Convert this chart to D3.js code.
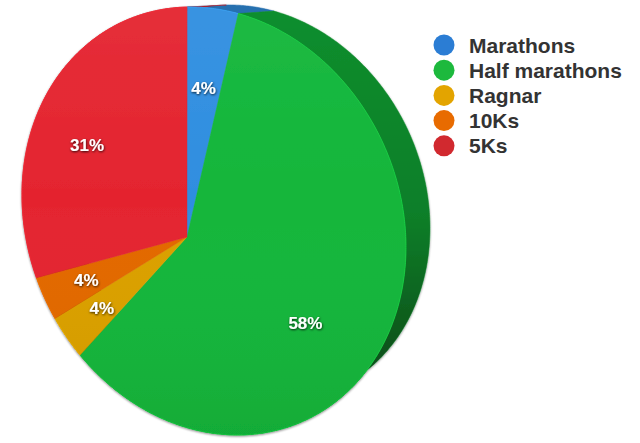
<!DOCTYPE html>
<html><head><meta charset="utf-8">
<script src="https://cdn.jsdelivr.net/npm/d3@7"></script>
<style>html,body{margin:0;padding:0;background:#fff}svg{display:block}</style>
</head><body>
<svg id="chart" width="640" height="443"></svg>
<script>
const categories = ["Marathons","Half marathons","Ragnar","10Ks","5Ks"];
const counts = [1,15,1,1,8];
const percentLabels = ["4%","58%","4%","4%","31%"];
const faceColors = ["#2f8ee0","#12b63a","#dba000","#e36800","#e4242f"];
const legendColors = ["#2b7dd4","#1db93d","#e3a400","#e86b00","#d1292f"];

const svg = d3.select("#chart");
const defs = svg.append("defs");

// ---- geometry: perspective disc (homography of unit circle onto an ellipse) ----
const E0=[214,221], M=[[192,0],[26,212.4]];
const C=[187,237];
const BOT_T=[37.4,-17], BOT_K=0.93;
const det = M[0][0]*M[1][1]-M[0][1]*M[1][0];
const Minv = [[M[1][1]/det, -M[0][1]/det],[-M[1][0]/det, M[0][0]/det]];
const dcx=C[0]-E0[0], dcy=C[1]-E0[1];
const qx = Minv[0][0]*dcx+Minv[0][1]*dcy, qy=Minv[1][0]*dcx+Minv[1][1]*dcy;
const rq=Math.hypot(qx,qy), nx=qx/rq, ny=qy/rq, gm=1/Math.sqrt(1-rq*rq), gv=gm*rq;
function toImage(u,v){
  const s=nx*u+ny*v;
  const X=u+(gm-1)*s*nx+gv*nx, Y=v+(gm-1)*s*ny+gv*ny, Wh=gv*s+gm;
  const x=X/Wh,y=Y/Wh;
  return [E0[0]+M[0][0]*x+M[0][1]*y, E0[1]+M[1][0]*x+M[1][1]*y];
}
function angUp(p){return Math.atan2(p[0]-C[0], -(p[1]-C[1]));}
let PHI0=0,bestErr=1e9;
for(let i=0;i<7200;i++){const a=i/7200*2*Math.PI;const p=toImage(Math.sin(a),-Math.cos(a));const e=Math.abs(angUp(p));if(e<bestErr){bestErr=e;PHI0=a;}}
function disc(theta,rho){const a=theta+PHI0;return toImage(rho*Math.sin(a),-rho*Math.cos(a));}
const bottom=p=>[E0[0]+BOT_T[0]+BOT_K*(p[0]-E0[0]), E0[1]+BOT_T[1]+BOT_K*(p[1]-E0[1])];
function arcPts(a0,a1,rho){const n=Math.max(2,Math.ceil((a1-a0)/(Math.PI/360)));return d3.range(n+1).map(i=>disc(a0+(a1-a0)*i/n,rho));}

const pie=d3.pie().sort(null).value(d=>d)(counts);
const line=d3.line();

// gradients & filters
const sideG=defs.append("linearGradient").attr("id","sideShade").attr("gradientUnits","userSpaceOnUse").attr("x1",0).attr("y1",0).attr("x2",0).attr("y2",360);
sideG.append("stop").attr("offset","0").attr("stop-color","#000").attr("stop-opacity",0.03);
sideG.append("stop").attr("offset","0.6").attr("stop-color","#000").attr("stop-opacity",0.14);
sideG.append("stop").attr("offset","1").attr("stop-color","#000").attr("stop-opacity",0.45);
const faceG=defs.append("linearGradient").attr("id","faceShade").attr("gradientUnits","userSpaceOnUse").attr("x1",0).attr("y1",0).attr("x2",0).attr("y2",440);
faceG.append("stop").attr("offset","0").attr("stop-color","#fff").attr("stop-opacity",0.05);
faceG.append("stop").attr("offset","0.45").attr("stop-color","#fff").attr("stop-opacity",0);
faceG.append("stop").attr("offset","1").attr("stop-color","#000").attr("stop-opacity",0.06);
const sh=defs.append("filter").attr("id","pieShadow").attr("x","-10%").attr("y","-10%").attr("width","120%").attr("height","120%");
sh.append("feDropShadow").attr("dx",0).attr("dy",1).attr("stdDeviation",1).attr("flood-color","#000").attr("flood-opacity",0.45);
const ts=defs.append("filter").attr("id","txtShadow").attr("x","-20%").attr("y","-20%").attr("width","140%").attr("height","140%");
ts.append("feDropShadow").attr("dx",0.5).attr("dy",1).attr("stdDeviation",0.8).attr("flood-color","#000").attr("flood-opacity",0.8);

const g=svg.append("g").attr("filter","url(#pieShadow)");
// sides
pie.forEach((s,i)=>{
  const pts=arcPts(s.startAngle,s.endAngle,1);
  const poly=pts.concat(pts.map(bottom).reverse());
  const col=d3.color(faceColors[i]).darker(0.6);
  g.append("path").attr("d",line(poly)+"Z").attr("fill",col).attr("stroke",col).attr("stroke-width",0.5);
  g.append("path").attr("d",line(poly)+"Z").attr("fill","url(#sideShade)");
});
// faces
pie.forEach((s,i)=>{
  const pts=[C].concat(arcPts(s.startAngle,s.endAngle,1));
  g.append("path").attr("d",line(pts)+"Z").attr("fill",faceColors[i]).attr("stroke",faceColors[i]).attr("stroke-width",0.4);
  g.append("path").attr("d",line(pts)+"Z").attr("fill","url(#faceShade)");
  g.append("path").attr("d",line(arcPts(s.startAngle,s.endAngle,1))).attr("fill","none")
    .attr("stroke",d3.color(faceColors[i]).brighter(0.5)).attr("stroke-opacity",0.6).attr("stroke-width",1);
});
// labels
pie.forEach((s,i)=>{
  const p=disc((s.startAngle+s.endAngle)/2,0.675);
  svg.append("text").attr("x",p[0]).attr("y",p[1]).attr("text-anchor","middle").attr("dominant-baseline","central")
    .attr("font-family","'Liberation Sans',Arial,sans-serif").attr("font-weight","bold").attr("font-size",17)
    .attr("fill","#fff").attr("filter","url(#txtShadow)").text(percentLabels[i]);
});
// legend
const leg=svg.append("g");
categories.forEach((c,i)=>{
  const y=45+i*25.2;
  leg.append("circle").attr("cx",444).attr("cy",y).attr("r",10.5).attr("fill",legendColors[i]);
  leg.append("text").attr("x",469).attr("y",y+7.5).attr("font-family","'Liberation Sans',Arial,sans-serif")
    .attr("font-weight","bold").attr("font-size",21).attr("fill","#333").text(c);
});
</script>
</body></html>
